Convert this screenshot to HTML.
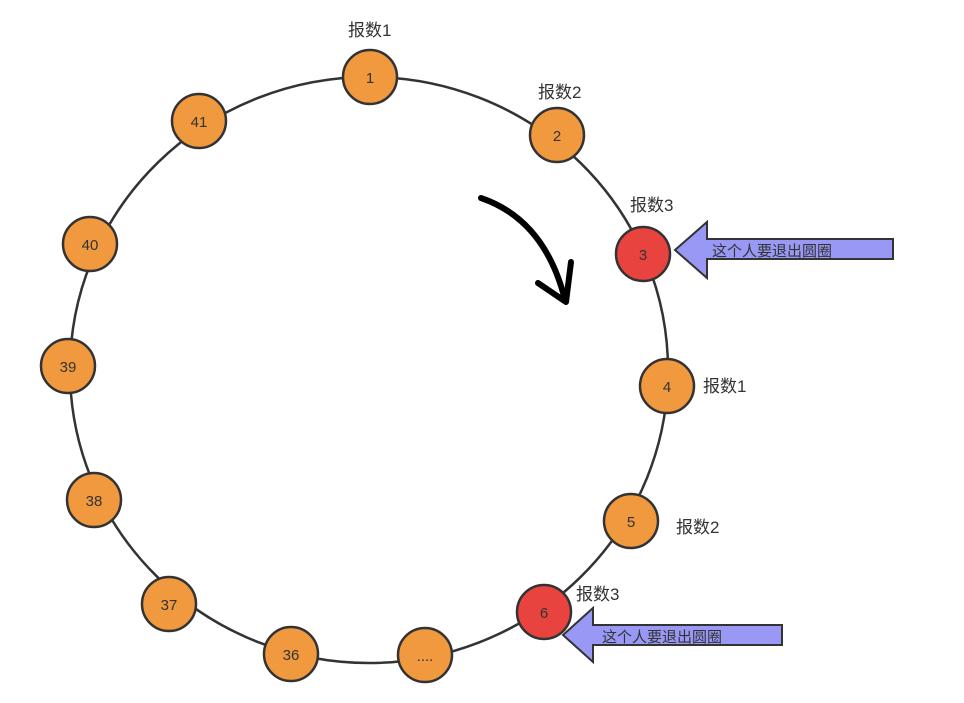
<!DOCTYPE html>
<html><head><meta charset="utf-8"><style>
body{margin:0;background:#fff;}
svg{display:block;}
text{font-family:"Liberation Sans","Noto Sans CJK SC",sans-serif;}
</style></head><body>
<svg width="964" height="703" viewBox="0 0 964 703">
<ellipse cx="369" cy="370" rx="299" ry="293" fill="none" stroke="#333" stroke-width="2.5"/>
<g stroke="#333" stroke-width="2.5">
<circle cx="370" cy="77" r="27" fill="#f0993f"/>
<circle cx="557" cy="135" r="27" fill="#f0993f"/>
<circle cx="643" cy="254" r="27" fill="#e8433f"/>
<circle cx="667" cy="386" r="27" fill="#f0993f"/>
<circle cx="631" cy="521" r="27" fill="#f0993f"/>
<circle cx="544" cy="612" r="27" fill="#e8433f"/>
<circle cx="425" cy="655" r="27" fill="#f0993f"/>
<circle cx="291" cy="654" r="27" fill="#f0993f"/>
<circle cx="169" cy="604" r="27" fill="#f0993f"/>
<circle cx="94" cy="500" r="27" fill="#f0993f"/>
<circle cx="68" cy="366" r="27" fill="#f0993f"/>
<circle cx="90" cy="244" r="27" fill="#f0993f"/>
<circle cx="199" cy="121" r="27" fill="#f0993f"/>
</g>
<g font-size="15" fill="#333" text-anchor="middle">
<text x="370" y="83">1</text><text x="557" y="141">2</text><text x="643" y="260">3</text>
<text x="667" y="392">4</text><text x="631" y="527">5</text><text x="544" y="618">6</text>
<text x="425" y="661">....</text><text x="291" y="660">36</text><text x="169" y="610">37</text>
<text x="94" y="506">38</text><text x="68" y="372">39</text><text x="90" y="250">40</text>
<text x="199" y="127">41</text>
</g>
<g font-size="17" fill="#333">
<text x="348" y="36">报数1</text><text x="538" y="98">报数2</text><text x="630" y="211">报数3</text>
<text x="703" y="392">报数1</text><text x="676" y="533">报数2</text><text x="576" y="600">报数3</text>
</g>
<path d="M675 250 L707 222 L707 239 L893 239 L893 259 L707 259 L707 278 Z" fill="#9999f5" stroke="#333" stroke-width="2"/>
<path d="M563 635 L593 608 L593 625 L782 625 L782 645 L593 645 L593 662 Z" fill="#9999f5" stroke="#333" stroke-width="2"/>
<g font-size="15" fill="#333">
<text x="712" y="256">这个人要退出圆圈</text>
<text x="602" y="642">这个人要退出圆圈</text>
</g>
<path d="M481 198 Q545 220 565 300" fill="none" stroke="#000" stroke-width="6" stroke-linecap="round"/>
<path d="M538 283 L566 302 L571 262" fill="none" stroke="#000" stroke-width="6" stroke-linecap="round" stroke-linejoin="round"/>
</svg>
</body></html>
